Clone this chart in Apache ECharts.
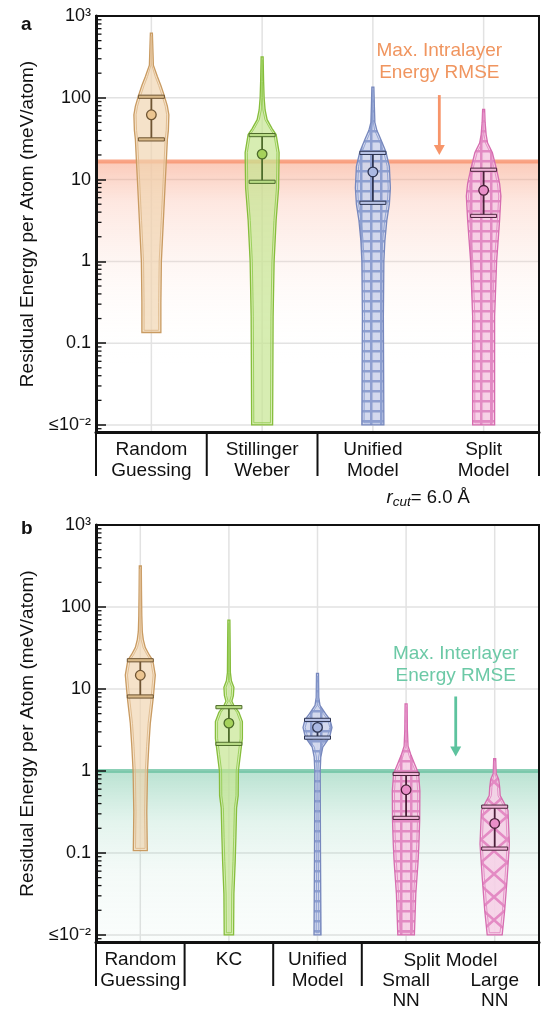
<!DOCTYPE html>
<html>
<head>
<meta charset="utf-8">
<script src="https://cdn.jsdelivr.net/npm/echarts@6/dist/echarts.min.js"></script>
<style>
  html, body { margin: 0; padding: 0; background: #fff; }
  #main { width: 544px; height: 1014px; }
</style>
</head>
<body>
<div id="main"></div>
<script>
// ---------------- data ----------------
var catsA = ['Random\nGuessing', 'Stillinger\nWeber', 'Unified\nModel', 'Split\nModel'];
var catsB = ['Random\nGuessing', 'KC', 'Unified\nModel', 'Small\nNN', 'Large\nNN'];
var groupB = 'Split Model';          // spans the last two categories of panel b
var groupBMembers = [3, 4];
var noteA = '{i|r}{s|cut}= 6.0 Å';  // under Unified / Split of panel a

var yTitle = 'Residual Energy per Atom (meV/atom)';
var yTickValues = [-2, -1, 0, 1, 2, 3];          // log10 of meV/atom
var yTickLabels = ['≤10⁻²', '0.1', '1', '10', '100', '10³'];
var minorMult = [2, 3, 4, 5, 6, 7, 8, 9];
var minorDecades = [-3, -2, -1, 0, 1, 2];

// separators under the x axis: -1 = left edge, k = boundary after category k
var sepsA = [-1, 0, 1, 3];
var sepsB = [-1, 0, 1, 2, 4];

// thresholds (meV/atom)
var intraRMSE = 16.6;
var interRMSE = 1.0;
var intraText = ['Max. Intralayer', 'Energy RMSE'];
var interText = ['Max. Interlayer', 'Energy RMSE'];
// arrow: x in category units, from/to in meV/atom; text rows in meV/atom
var arrowA = { x: 2.6, from: 108, to: 20, text: [380, 200] };
var arrowB = { x: 3.56, from: 8.1, to: 1.5, text: [27.2, 14.3] };

// violins: E = energy levels (meV/atom), D = half-width density, S = [low, centre, high]
// panel a
var rgA_E = [617, 398, 251, 182, 141, 110, 79, 62, 40, 31, 17.4, 10, 3.16, 1, 0.316, 0.135];
var rgA_D = [1, 1.5, 2, 6, 9.5, 12.5, 16, 17.5, 17, 16, 15, 14, 12, 10, 9.5, 9.5];
var rgA_S = [31, 62, 103];
var swA_E = [316, 158, 100, 71, 54, 42, 35.5, 21.4, 7.9, 3.16, 1, 0.214, 0.01];
var swA_D = [1, 1.5, 2, 3, 5, 10, 14, 17, 16.5, 14, 12, 11, 10.5];
var swA_S = [9.4, 20.5, 35];
var unA_E = [135, 79, 50, 40, 31, 21.9, 14.5, 7.9, 5, 3.2, 1.78, 1, 0.214, 0.01];
var unA_D = [1, 1.5, 2, 4, 8, 13, 16.5, 17.5, 16.5, 14, 12, 11, 10.5, 11];
var unA_S = [5.2, 12.4, 21.2];
var spA_E = [72, 50, 35.5, 28, 21.4, 13.2, 8.9, 6.3, 3.2, 1.78, 1, 0.214, 0.01];
var spA_D = [1, 1.5, 2.5, 4, 8.7, 13, 16, 17.3, 16, 14.5, 13, 11, 11];
var spA_S = [3.6, 7.4, 13.2];
// panel b
var rgB_E = [316, 158, 79, 50, 40, 32, 26, 22.4, 14.8, 7.9, 3.8, 2, 1, 0.316, 0.107];
var rgB_D = [1, 1.2, 1.5, 2, 3, 5, 9, 12.5, 15, 13, 10, 8.5, 7.2, 6.5, 7];
var rgB_S = [8.1, 14.7, 22.4];
var kcB_E = [69, 31.6, 15.8, 12.6, 10.5, 8.3, 7.1, 6.3, 5.2, 4, 2.5, 1.58, 1, 0.5, 0.355, 0.155, 0.079, 0.0316, 0.01];
var kcB_D = [1, 1.3, 1.5, 2.5, 5, 4.5, 3, 5, 10, 13.5, 13.5, 11.5, 9.5, 9.3, 7.7, 7, 6.3, 5, 4.7];
var kcB_S = [2.14, 3.83, 6.0];
var unB_E = [15.5, 7.9, 6.3, 5.0, 4.2, 3.4, 2.57, 1.95, 1.48, 1, 0.1, 0.01];
var unB_D = [1, 1.3, 2.5, 8, 12.5, 14.5, 12, 5.3, 3.3, 2.7, 3, 3.5];
var unB_S = [2.55, 3.4, 4.2];
var smB_E = [6.6, 3.16, 2, 1.55, 1.23, 0.93, 0.575, 0.25, 0.126, 0.079, 0.0316, 0.01];
var smB_D = [1, 1.3, 2, 5, 8.3, 12.5, 13.8, 13.6, 12.8, 12, 9.7, 8.3];
var smB_S = [0.268, 0.59, 0.92];
var lgB_E = [1.41, 0.93, 0.79, 0.63, 0.5, 0.417, 0.331, 0.129, 0.05, 0.02, 0.01];
var lgB_D = [1, 1.5, 4, 5, 5.5, 9, 13.3, 14.7, 12.5, 10, 7.5];
var lgB_S = [0.113, 0.229, 0.367];

// ---------------- styles ----------------
var FONT = '"Liberation Sans", Arial, Helvetica, sans-serif';
var Y_MIN = -2.086, Y_MAX = 3;
var HALF_PX = 1;  // px of half width per density unit

function gridPattern(bg, ln, size, lw) {
    var c = document.createElement('canvas');
    c.width = size; c.height = size;
    var g = c.getContext('2d');
    g.fillStyle = bg; g.fillRect(0, 0, size, size);
    g.fillStyle = ln;
    g.fillRect(0, 0, size, lw);
    g.fillRect(0, 0, lw, size);
    return { image: c, repeat: 'repeat' };
}
function crossPattern(bg, ln, w, h, lw) {
    var c = document.createElement('canvas');
    c.width = w; c.height = h;
    var g = c.getContext('2d');
    g.fillStyle = bg; g.fillRect(0, 0, w, h);
    g.strokeStyle = ln; g.lineWidth = lw;
    g.beginPath();
    g.moveTo(0, 0); g.lineTo(w, h);
    g.moveTo(w, 0); g.lineTo(0, h);
    g.stroke();
    return { image: c, repeat: 'repeat' };
}

var LOOK = {
    tan: { fill: 'rgba(240,212,175,0.68)', edge: '#c99b62', inner: 'rgba(222,185,140,0.9)',
           bar: '#6f5533', cap: '#d9b988', dot: '#ecc590' },
    green: { fill: 'rgba(198,229,146,0.7)', edge: '#86bd3c', inner: 'rgba(150,205,85,0.9)',
             bar: '#4e6c2b', cap: '#b9dc86', dot: '#a5d25b' },
    blue: { fill: gridPattern('rgba(206,213,236,0.9)', '#8e9fd0', 10, 2.5), edge: '#7788bd',
            inner: 'rgba(140,158,208,0.9)', bar: '#2e3552', cap: '#b8c3e6', dot: '#aab8e2' },
    pink: { fill: gridPattern('rgba(246,204,228,0.9)', '#e28ac3', 10, 2.5), edge: '#d66db0',
            inner: 'rgba(226,138,195,0.9)', bar: '#4a2039', cap: '#f0b5d8', dot: '#e98fc8' },
    pinkX: { fill: crossPattern('rgba(246,208,231,0.9)', '#e48bc4', 26, 23, 2.6), edge: '#d66db0',
             inner: 'rgba(226,138,195,0.9)', bar: '#4a2039', cap: '#f0b5d8', dot: '#e98fc8' }
};
var bandA = { line: 'rgba(248,150,115,0.85)', text: '#f0955f', arrow: '#f7956a',
    stops: [{ offset: 0, color: 'rgba(247,150,115,0.5)' }, { offset: 0.15, color: 'rgba(249,170,145,0.28)' },
            { offset: 0.45, color: 'rgba(252,210,195,0.12)' }, { offset: 0.75, color: 'rgba(255,255,255,0)' }] };
var bandB = { line: 'rgba(110,196,164,0.8)', text: '#6cc9a6', arrow: '#5dc39e',
    stops: [{ offset: 0, color: 'rgba(110,195,160,0.48)' }, { offset: 0.3, color: 'rgba(130,205,175,0.22)' },
            { offset: 0.6, color: 'rgba(150,210,185,0.1)' }, { offset: 1, color: 'rgba(160,215,195,0.05)' }] };

var violinsA = [
    { E: rgA_E, D: rgA_D, S: rgA_S }, { E: swA_E, D: swA_D, S: swA_S },
    { E: unA_E, D: unA_D, S: unA_S }, { E: spA_E, D: spA_D, S: spA_S }
];
var violinsB = [
    { E: rgB_E, D: rgB_D, S: rgB_S }, { E: kcB_E, D: kcB_D, S: kcB_S },
    { E: unB_E, D: unB_D, S: unB_S }, { E: smB_E, D: smB_D, S: smB_S },
    { E: lgB_E, D: lgB_D, S: lgB_S }
];
var looksA = [LOOK.tan, LOOK.green, LOOK.blue, LOOK.pink];
var looksB = [LOOK.tan, LOOK.green, LOOK.blue, LOOK.pink, LOOK.pinkX];

// ---------------- render helpers ----------------
function violinRender(list, looks) {
    return function (params, api) {
        var i = params.dataIndex, v = list[i], lk = looks[i];
        var cx = api.coord([i, 0])[0];
        var n = v.E.length, L = [], R = [], iL = [], iR = [];
        for (var k = 0; k < n; k++) {
            var y = api.coord([i, Math.log10(v.E[k])])[1];
            var w = v.D[k] * HALF_PX;
            L.push([cx - w, y]); R.push([cx + w, y]);
            var wi = Math.max(w - 2.2, 0.4);
            var yi = k === 0 ? y + 3 : (k === n - 1 ? y - 2.2 : y);
            iL.push([cx - wi, yi]); iR.push([cx + wi, yi]);
        }
        var outline = L.concat(R.reverse());
        var inner = iL.concat(iR.reverse());
        var yLo = api.coord([i, Math.log10(v.S[0])])[1];
        var yMid = api.coord([i, Math.log10(v.S[1])])[1];
        var yHi = api.coord([i, Math.log10(v.S[2])])[1];
        return {
            type: 'group',
            children: [
                { type: 'polygon', shape: { points: outline }, style: { fill: lk.fill, stroke: lk.edge, lineWidth: 1.3 } },
                { type: 'polygon', shape: { points: inner }, style: { fill: 'none', stroke: lk.inner, lineWidth: 1 } },
                { type: 'line', shape: { x1: cx, y1: yLo, x2: cx, y2: yHi }, style: { stroke: lk.bar, lineWidth: 1.8 } },
                { type: 'rect', shape: { x: cx - 13, y: yHi - 1.6, width: 26, height: 3.2 },
                  style: { fill: lk.cap, stroke: lk.bar, lineWidth: 1 } },
                { type: 'rect', shape: { x: cx - 13, y: yLo - 1.6, width: 26, height: 3.2 },
                  style: { fill: lk.cap, stroke: lk.bar, lineWidth: 1 } },
                { type: 'circle', shape: { cx: cx, cy: yMid, r: 4.8 },
                  style: { fill: lk.dot, stroke: lk.bar, lineWidth: 1.3 } }
            ]
        };
    };
}

function txt(s, x, y, size, color, extra) {
    var st = { text: s, x: x, y: y, fill: color, fontSize: size, fontFamily: FONT,
               align: 'center', verticalAlign: 'middle' };
    for (var k in extra || {}) st[k] = extra[k];
    return { type: 'text', style: st };
}

function decoRender(cfg) {
    return function (params, api) {
        var band = api.size([1, 0])[0];
        var n = cfg.cats.length;
        var xL = api.coord([0, Y_MIN])[0] - band / 2;
        var xR = api.coord([n - 1, Y_MIN])[0] + band / 2;
        var yB = api.coord([0, Y_MIN])[1];
        var yT = api.coord([0, Y_MAX])[1];
        var xAt = function (f) { var i = Math.floor(f); return api.coord([i, 0])[0] + (f - i) * band; };
        var yAt = function (e) { return api.coord([0, Math.log10(e)])[1]; };
        var kids = [];
        // grid lines
        yTickValues.forEach(function (t) {
            if (t >= Y_MAX) return;
            var y = api.coord([0, t])[1];
            kids.push({ type: 'line', shape: { x1: xL, y1: y, x2: xR, y2: y }, style: { stroke: '#e2e2e2', lineWidth: 1.5 } });
        });
        for (var i = 0; i < n; i++) {
            var x = api.coord([i, 0])[0];
            kids.push({ type: 'line', shape: { x1: x, y1: yT, x2: x, y2: yB }, style: { stroke: '#e2e2e2', lineWidth: 1.5 } });
        }
        // threshold band
        var yb = yAt(cfg.rmse);
        kids.push({ type: 'rect', shape: { x: xL, y: yb, width: xR - xL, height: yB - yb },
            style: { fill: { type: 'linear', x: 0, y: 0, x2: 0, y2: 1, colorStops: cfg.look.stops } } });
        kids.push({ type: 'line', shape: { x1: xL, y1: yb, x2: xR, y2: yb }, style: { stroke: cfg.look.line, lineWidth: 4 } });
        // minor ticks
        minorDecades.forEach(function (d) {
            minorMult.forEach(function (m) {
                var lv = Math.log10(m) + d;
                if (lv <= Y_MIN || lv >= Y_MAX) return;
                var y = api.coord([0, lv])[1];
                kids.push({ type: 'line', shape: { x1: xL, y1: y, x2: xL + 5.5, y2: y }, style: { stroke: '#111', lineWidth: 1.3 } });
            });
        });
        // separators under the axis
        cfg.seps.forEach(function (s) {
            var x = s < 0 ? xL : xAt(s + 0.5);
            kids.push({ type: 'line', shape: { x1: x, y1: yB, x2: x, y2: yB + 44 }, style: { stroke: '#111', lineWidth: 2 } });
        });
        // arrow + annotation
        var ax = xAt(cfg.arrow.x), y1 = yAt(cfg.arrow.from), y2 = yAt(cfg.arrow.to);
        kids.push({ type: 'line', shape: { x1: ax, y1: y1, x2: ax, y2: y2 - 8 }, style: { stroke: cfg.look.arrow, lineWidth: 2.8 } });
        kids.push({ type: 'polygon', shape: { points: [[ax - 5.5, y2 - 10], [ax + 5.5, y2 - 10], [ax, y2]] },
            style: { fill: cfg.look.arrow } });
        cfg.text.forEach(function (s, k) {
            kids.push(txt(s, ax, yAt(cfg.arrow.text[k]), 19, cfg.look.text));
        });
        if (cfg.extra) cfg.extra(kids, api, xAt, yB);
        return { type: 'group', children: kids };
    };
}

var cfgA = {
    cats: catsA, seps: sepsA, rmse: intraRMSE, look: bandA, arrow: arrowA, text: intraText,
    extra: function (kids, api, xAt, yB) {
        kids.push(txt(noteA, xAt(2.5), yB + 66, 18.5, '#111', {
            rich: { i: { fontStyle: 'italic', fontSize: 18.5, fontFamily: FONT, fill: '#111' },
                    s: { fontStyle: 'italic', fontSize: 13.5, fontFamily: FONT, fill: '#111', padding: [9, 0, 0, 0] } }
        }));
    }
};
var cfgB = {
    cats: catsB, seps: sepsB, rmse: interRMSE, look: bandB, arrow: arrowB, text: interText,
    extra: function (kids, api, xAt, yB) {
        var mid = (groupBMembers[0] + groupBMembers[groupBMembers.length - 1]) / 2;
        kids.push(txt(groupB, xAt(mid), yB + 18.5, 19, '#111'));
    }
};

function xAxisFor(gi, cats, fmt) {
    return {
        type: 'category', gridIndex: gi, data: cats, boundaryGap: true, z: 3,
        axisLine: { onZero: false, lineStyle: { color: '#111', width: 3 } },
        axisTick: { alignWithLabel: true, inside: true, length: 8, interval: 0, lineStyle: { color: '#111', width: 1.5 } },
        axisLabel: { interval: 0, color: '#111', fontSize: 19, lineHeight: 20.5, margin: 8, fontFamily: FONT, formatter: fmt },
        splitLine: { show: false }
    };
}
function yAxisFor(gi) {
    return {
        type: 'value', gridIndex: gi, min: Y_MIN, max: Y_MAX, z: 3,
        name: yTitle, nameLocation: 'middle', nameGap: 59, nameRotate: 90,
        nameTextStyle: { fontSize: 19, color: '#111', fontFamily: FONT },
        axisLine: { show: true, lineStyle: { color: '#111', width: 3 } },
        axisTick: { show: true, inside: true, length: 10, customValues: yTickValues, lineStyle: { color: '#111', width: 1.5 } },
        axisLabel: { customValues: yTickValues, color: '#111', fontSize: 18, margin: 5, fontFamily: FONT,
            formatter: function (v) { var k = yTickValues.indexOf(Math.round(v)); return k < 0 ? '' : yTickLabels[k]; } },
        splitLine: { show: false }
    };
}

var chart = echarts.init(document.getElementById('main'));
chart.setOption({
    animation: false,
    textStyle: { fontFamily: FONT },
    grid: [
        { left: 96, top: 16, width: 443, height: 416, show: true, borderColor: '#111', borderWidth: 2, z: 3 },
        { left: 96, top: 525, width: 443, height: 417, show: true, borderColor: '#111', borderWidth: 2, z: 3 }
    ],
    xAxis: [
        xAxisFor(0, catsA),
        xAxisFor(1, catsB, function (v, idx) { return groupBMembers.indexOf(idx) >= 0 ? '\n' + v : v; })
    ],
    yAxis: [yAxisFor(0), yAxisFor(1)],
    graphic: [
        { type: 'text', left: 21, top: 15, style: { text: 'a', font: 'bold 19px ' + FONT, fill: '#111' } },
        { type: 'text', left: 21, top: 519, style: { text: 'b', font: 'bold 19px ' + FONT, fill: '#111' } }
    ],
    series: [
        { type: 'custom', xAxisIndex: 0, yAxisIndex: 0, z: 1, renderItem: decoRender(cfgA), data: [[0, 0]] },
        { type: 'custom', xAxisIndex: 1, yAxisIndex: 1, z: 1, renderItem: decoRender(cfgB), data: [[0, 0]] },
        { type: 'custom', xAxisIndex: 0, yAxisIndex: 0, z: 2, renderItem: violinRender(violinsA, looksA),
          data: violinsA.map(function (v, i) { return [i, Math.log10(v.S[1])]; }) },
        { type: 'custom', xAxisIndex: 1, yAxisIndex: 1, z: 2, renderItem: violinRender(violinsB, looksB),
          data: violinsB.map(function (v, i) { return [i, Math.log10(v.S[1])]; }) }
    ]
});
window.addEventListener('resize', chart.resize);
</script>
</body>
</html>
